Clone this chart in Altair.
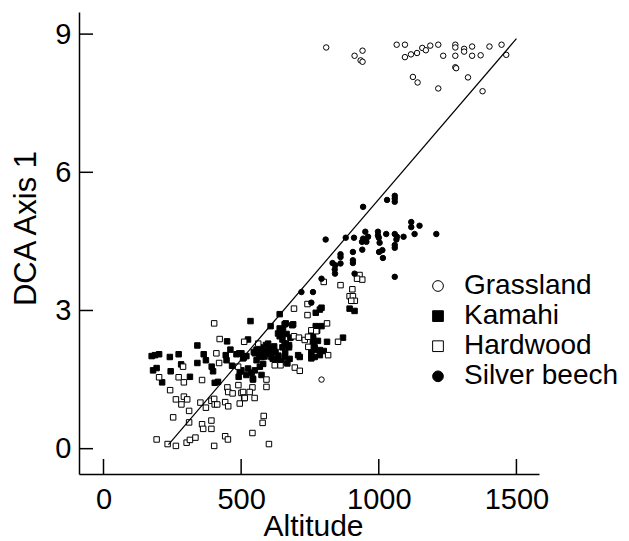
import altair as alt
import pandas as pd

groups = ["Grassland", "Kamahi", "Hardwood", "Silver beech"]

grass_x = [809, 912, 941, 934, 941, 1065, 1095, 1095, 1117, 1139, 1158, 1171, 1187, 1216, 1234,
           1278, 1278, 1278, 1278, 1281, 1310, 1310, 1339, 1339, 1370, 1402, 1446, 1463,
           1124, 1141, 1216, 1324, 1377, 792]
grass_y = [8.71, 8.53, 8.64, 8.43, 8.40, 8.77, 8.77, 8.50, 8.56, 8.59, 8.70, 8.65, 8.75, 8.77, 8.53,
           8.77, 8.71, 8.53, 8.28, 8.26, 8.68, 8.62, 8.73, 8.53, 8.54, 8.73, 8.77, 8.55,
           8.07, 7.95, 7.82, 8.06, 7.76, 1.50]

kamahi_x = [175, 187, 202, 241, 273, 180, 193, 213, 244, 282, 314, 341, 341, 364, 372, 393, 398, 404, 416,
            449, 444, 447, 461, 467, 493, 491, 501, 510, 519, 525, 534, 607, 640, 658, 686, 652, 634, 640,
            650, 658, 674, 546, 556, 565, 575, 585, 595, 605, 615, 625, 635, 645, 660, 668, 676, 590, 620,
            501, 507, 483, 525, 495, 538, 543, 519, 707, 713, 755, 767, 761, 771, 776, 779, 761, 767,
            771, 786, 792, 894, 912, 662, 689, 640, 646, 665, 679, 662, 670, 773, 792, 755, 761, 761, 767,
            786, 800, 755, 755, 786, 812, 870, 650, 674, 598, 604, 580, 568, 574, 550, 556, 580, 550, 568,
            574, 543, 610, 628, 646, 658]
kamahi_y = [2.01, 2.03, 2.05, 1.99, 2.05, 1.70, 1.75, 1.44, 1.68, 1.83, 1.56, 2.24, 1.86, 2.05, 1.92, 1.78, 1.68, 1.43, 1.45,
            2.33, 2.03, 1.92, 2.15, 1.80, 2.07, 1.56, 1.70, 1.98, 2.01, 2.37, 2.77, 2.66, 2.92, 2.70, 2.68, 2.59, 2.50, 2.44,
            2.37, 2.28, 2.25, 2.10, 2.15, 2.05, 2.18, 2.00, 2.12, 2.06, 1.95, 2.10, 2.02, 1.90, 2.08, 1.85, 1.95, 2.25, 2.22,
            2.07, 1.96, 2.05, 1.74, 1.67, 1.65, 1.50, 1.60, 2.03, 1.99, 2.14, 2.15, 2.43, 2.66, 2.56, 2.34, 2.28, 1.99,
            2.95, 3.02, 3.06, 3.04, 2.99, 2.72, 2.70, 2.61, 2.49, 2.49, 2.41, 2.28, 2.23, 2.64, 2.66, 2.51, 2.39, 2.25, 2.20,
            2.14, 2.12, 2.03, 1.96, 2.03, 2.32, 2.41, 2.20, 2.20, 2.28, 2.17, 2.12, 2.20, 1.99, 2.07, 1.92, 1.84, 1.70, 1.78,
            1.60, 1.52, 1.99, 1.92, 1.89, 1.99]

hard_x = [402, 422, 410, 420, 289, 202, 273, 292, 358, 242, 263, 292, 304, 283, 352, 372, 392, 402, 404, 413,
          442, 453, 450, 453, 469, 490, 501, 511, 495, 311, 253, 311, 358, 362, 392, 392, 193, 233, 263, 302,
          314, 334, 402, 442, 452, 511, 489, 692, 741, 741, 755, 692, 710, 731, 744, 622, 643, 695, 713, 592,
          592, 541, 507, 531, 513, 549, 582, 578, 541, 601, 800, 861, 930, 940, 921, 904, 894, 906, 913, 900,
          812, 773, 852, 816, 562, 743]
hard_y = [2.72, 2.38, 2.07, 1.86, 1.78, 1.55, 1.55, 1.44, 1.49, 1.27, 1.07, 1.13, 1.07, 0.96, 1.00, 0.89, 1.04, 1.08, 0.96, 0.96,
          1.01, 0.92, 1.33, 1.23, 1.20, 1.38, 1.21, 1.10, 0.98, 0.82, 0.68, 0.57, 0.53, 0.43, 0.61, 0.43, 0.20, 0.10, 0.06, 0.13,
          0.19, 0.24, 0.06, 0.27, 0.20, 2.32, 1.78, 3.04, 3.14, 2.90, 2.57, 2.44, 2.41, 2.36, 2.21, 1.81, 1.81, 1.76, 1.69, 1.50,
          1.34, 1.33, 1.23, 1.23, 1.10, 1.10, 0.71, 0.56, 0.34, 0.10, 3.62, 3.55, 3.77, 3.67, 3.69, 3.46, 3.31, 3.31, 3.21, 3.21,
          2.72, 2.55, 2.32, 2.03, 2.28, 2.43]

beech_x = [807, 880, 910, 943, 1030, 1058, 1058, 1058, 951, 943, 939, 955, 961, 997, 997, 1000, 1027, 1058, 1066, 1064,
           1090, 1118, 1118, 1148, 1130, 1209, 940, 1003, 1001, 1013, 1015, 1058, 1058, 906, 906, 906, 861, 861,
           832, 842, 840, 841, 861, 792, 761, 719, 912, 1058, 755]
beech_y = [4.54, 4.58, 4.58, 5.25, 5.40, 5.49, 5.43, 5.36, 4.71, 4.56, 4.49, 4.49, 4.60, 4.71, 4.63, 4.58, 4.66, 4.66, 4.60, 4.54,
           4.60, 4.92, 4.81, 4.84, 4.66, 4.66, 4.32, 4.47, 4.27, 4.31, 4.14, 4.42, 4.36, 4.27, 4.09, 4.03, 4.22, 4.16,
           4.03, 3.98, 3.89, 3.80, 4.02, 3.69, 3.40, 3.40, 3.80, 3.73, 3.17]

line_x = [236, 1500]
line_y = [0.09, 8.90]

x_ticks = [0, 500, 1000, 1500]
y_ticks = [0, 3, 6, 9]

rows = []
for g, xs_, ys_ in [("Grassland", grass_x, grass_y), ("Kamahi", kamahi_x, kamahi_y),
                    ("Hardwood", hard_x, hard_y), ("Silver beech", beech_x, beech_y)]:
    for a, b in zip(xs_, ys_):
        rows.append({"group": g, "alt": a, "dca": b})
df = pd.DataFrame(rows)

W, H = 460, 462
FONT = "Liberation Sans"
xsc = alt.Scale(domain=[-89, 1582], nice=False, zero=False)
ysc = alt.Scale(domain=[-0.55, 9.48], nice=False, zero=False)

x_axis = alt.Axis(values=x_ticks, format="d", ticks=False, tickSize=0, grid=False, title="Altitude",
                  labelFontSize=29, titleFontSize=30, labelPadding=11, labelFont=FONT, titleFont=FONT,
                  domainColor="black", domainWidth=1.5, labelColor="black", titleColor="black",
                  titleFontWeight="normal", titleBaseline="alphabetic", titleY=61, titleX=234)
y_axis = alt.Axis(values=y_ticks, format="d", ticks=False, tickSize=0, grid=False, title="DCA Axis 1",
                  labelFontSize=29, titleFontSize=31, labelPadding=8, labelFont=FONT, titleFont=FONT,
                  domainColor="black", domainWidth=1.5, labelColor="black", titleColor="black",
                  titleFontWeight="normal", titleX=-53, titleY=216, titleAlign="center",
                  titleBaseline="middle", titleAngle=270)

leg = alt.Legend(title=None, orient="none", legendX=345, legendY=260, labelFontSize=28, labelFont=FONT,
                 labelColor="black", symbolSize=115, symbolStrokeColor="black", symbolStrokeWidth=1,
                 labelOffset=12, rowPadding=2.1, padding=0)

points = alt.Chart(df).mark_point(filled=True, size=30, strokeWidth=1, opacity=1).encode(
    x=alt.X("alt:Q", scale=xsc, axis=x_axis),
    y=alt.Y("dca:Q", scale=ysc, axis=y_axis),
    shape=alt.Shape("group:N", scale=alt.Scale(domain=groups, range=["circle", "square", "square", "circle"]),
                    legend=leg),
    fill=alt.Fill("group:N", scale=alt.Scale(domain=groups, range=["white", "black", "white", "black"]),
                  legend=leg),
    stroke=alt.Stroke("group:N", scale=alt.Scale(domain=groups, range=["black", "black", "black", "black"]),
                      legend=leg),
)

fit = alt.Chart(pd.DataFrame({"x": line_x, "y": line_y})).mark_line(color="black", strokeWidth=1.2).encode(
    x=alt.X("x:Q", scale=xsc, axis=x_axis), y=alt.Y("y:Q", scale=ysc, axis=y_axis))

xt = alt.Chart(pd.DataFrame({"t": x_ticks})).mark_rule(color="black", strokeWidth=1.5).encode(
    x=alt.X("t:Q", scale=xsc, axis=x_axis), y=alt.value(H), y2=alt.value(H - 15))
yt = alt.Chart(pd.DataFrame({"t": y_ticks})).mark_rule(color="black", strokeWidth=1.5).encode(
    y=alt.Y("t:Q", scale=ysc, axis=y_axis), x=alt.value(0), x2=alt.value(14))

chart = alt.layer(points, fit, xt, yt).properties(
    width=W, height=H,
    padding={"left": 71, "top": 4, "right": 82, "bottom": 66},
    autosize=alt.AutoSizeParams(type="none"),
).configure_view(stroke=None)

chart.save("out.html", embed_options={"renderer": "svg", "actions": False})
